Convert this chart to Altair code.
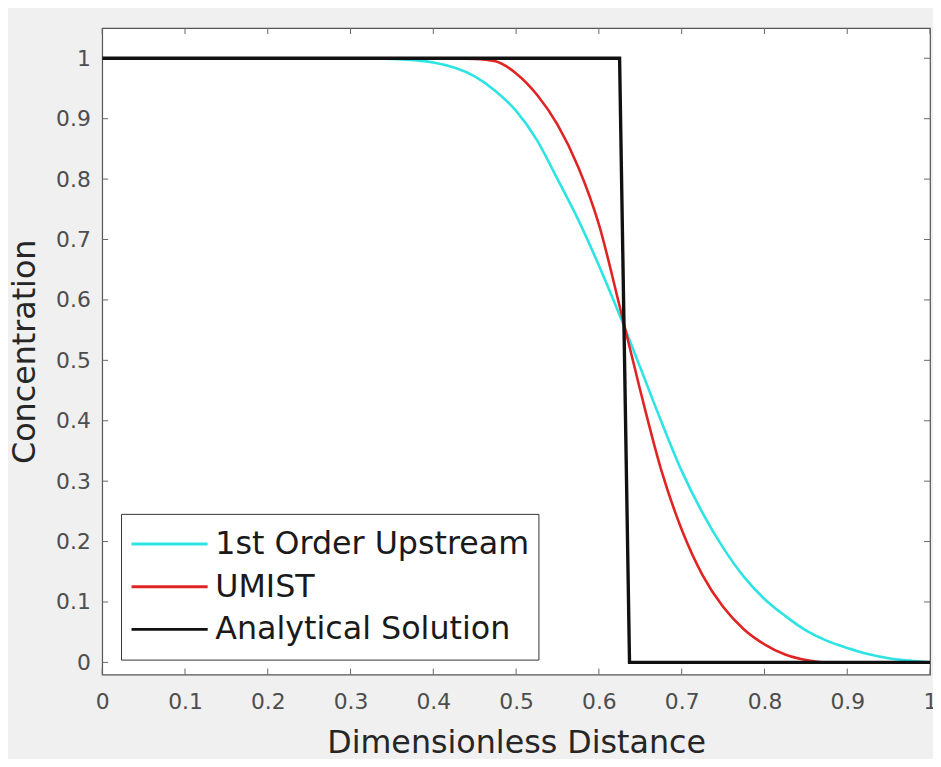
import altair as alt
import pandas as pd

# ---- data ----
x_upstream = [0.0, 0.30, 0.35, 0.40, 0.45, 0.475, 0.50, 0.525, 0.55, 0.575, 0.60, 0.625, 0.65,
              0.675, 0.70, 0.725, 0.75, 0.775, 0.80, 0.825, 0.85, 0.875, 0.90, 0.925, 0.95, 0.975, 1.0]
y_upstream = [1.0, 1.0, 0.999, 0.993, 0.97, 0.946, 0.913, 0.865, 0.80, 0.733, 0.657, 0.575, 0.488,
              0.40, 0.317, 0.248, 0.19, 0.142, 0.105, 0.077, 0.053, 0.036, 0.024, 0.014, 0.007, 0.003, 0.0]

x_umist = [0.0, 0.40, 0.45, 0.475, 0.50, 0.525, 0.55, 0.575, 0.60, 0.625, 0.65, 0.675, 0.70,
           0.725, 0.75, 0.775, 0.80, 0.825, 0.85, 0.875, 1.0]
y_umist = [1.0, 1.0, 0.999, 0.995, 0.975, 0.94, 0.89, 0.82, 0.725, 0.59, 0.45, 0.32, 0.22,
           0.145, 0.092, 0.055, 0.03, 0.013, 0.004, 0.0, 0.0]

x_analytic = [0.0, 0.625, 0.637, 1.0]
y_analytic = [1.0, 1.0, 0.0, 0.0]

series_names = ["1st Order Upstream", "UMIST", "Analytical Solution"]
series_colors = ["#2ee3e3", "#e02424", "#111111"]

x_ticks = [0, 0.1, 0.2, 0.3, 0.4, 0.5, 0.6, 0.7, 0.8, 0.9, 1]
y_ticks = [0, 0.1, 0.2, 0.3, 0.4, 0.5, 0.6, 0.7, 0.8, 0.9, 1]

W, H = 835, 652
FONT = "DejaVu Sans"

def make_df(names, xs_list, ys_list):
    rows = []
    for name, xs, ys in zip(names, xs_list, ys_list):
        for i, (xv, yv) in enumerate(zip(xs, ys)):
            rows.append({"x": xv, "y": yv, "series": name, "idx": i})
    return pd.DataFrame(rows)

curves_df = make_df(series_names[:2], [x_upstream, x_umist], [y_upstream, y_umist])
step_df = make_df(series_names[2:], [x_analytic], [y_analytic])

xscale = alt.Scale(domain=[0, 1], nice=False, zero=False)
yscale = alt.Scale(domain=[-0.02, 1.05], nice=False, zero=False)

x_enc = alt.X("x:Q", scale=xscale,
              axis=alt.Axis(values=x_ticks, format="~g", title="Dimensionless Distance",
                            labelPadding=17, titlePadding=16))
y_enc = alt.Y("y:Q", scale=yscale,
              axis=alt.Axis(values=y_ticks, format="~g", title="Concentration",
                            labelPadding=12, titlePadding=14))
color_enc = alt.Color("series:N",
                      scale=alt.Scale(domain=series_names, range=series_colors),
                      sort=series_names,
                      legend=alt.Legend(title=None, orient="none", legendX=19, legendY=490,
                                        fillColor="white", strokeColor="#333333",
                                        padding=9, labelFontSize=32, labelFont=FONT,
                                        labelColor="#1a1a1a", symbolType="stroke",
                                        symbolSize=5900, symbolStrokeWidth=3,
                                        labelOffset=6, rowPadding=0, clipHeight=43,
                                        labelLimit=0))

curves = alt.Chart(curves_df).mark_line(strokeWidth=2.6, clip=True, interpolate="monotone").encode(
    x=x_enc, y=y_enc, color=color_enc, order=alt.Order("idx:Q"))
step = alt.Chart(step_df).mark_line(strokeWidth=3.4, clip=True).encode(
    x=x_enc, y=y_enc, color=color_enc, order=alt.Order("idx:Q"))

ydf = pd.DataFrame({"v": y_ticks})
xdf = pd.DataFrame({"v": x_ticks})
tick_color = "#666666"

left_ticks = alt.Chart(ydf).mark_rule(color=tick_color, strokeWidth=1).encode(
    y=alt.Y("v:Q", scale=yscale), x=alt.value(0), x2=alt.value(6))
right_ticks = alt.Chart(ydf).mark_rule(color=tick_color, strokeWidth=1).encode(
    y=alt.Y("v:Q", scale=yscale), x=alt.value(W - 6), x2=alt.value(W))
bottom_ticks = alt.Chart(xdf).mark_rule(color=tick_color, strokeWidth=1).encode(
    x=alt.X("v:Q", scale=xscale), y=alt.value(H - 6), y2=alt.value(H))
top_ticks = alt.Chart(xdf).mark_rule(color=tick_color, strokeWidth=1).encode(
    x=alt.X("v:Q", scale=xscale), y=alt.value(0), y2=alt.value(6))

chart = alt.layer(left_ticks, right_ticks, bottom_ticks, top_ticks, curves, step).properties(
    width=W, height=H,
    autosize=alt.AutoSizeParams(type="none"),
    padding={"left": 95, "top": 17, "right": 3, "bottom": 82},
    background="#f0f0f0",
).configure_view(
    fill="white", stroke="#555555", strokeWidth=1.2,
).configure_axis(
    domain=False, ticks=False, grid=False,
    labelFont=FONT, labelFontSize=22, labelColor="#4d4d4d",
    titleFont=FONT, titleFontSize=32, titleFontWeight="normal", titleColor="#262626",
    labelOverlap=False, labelFlush=False,
)

chart.save("out.html", embed_options={"renderer": "svg", "actions": False})
